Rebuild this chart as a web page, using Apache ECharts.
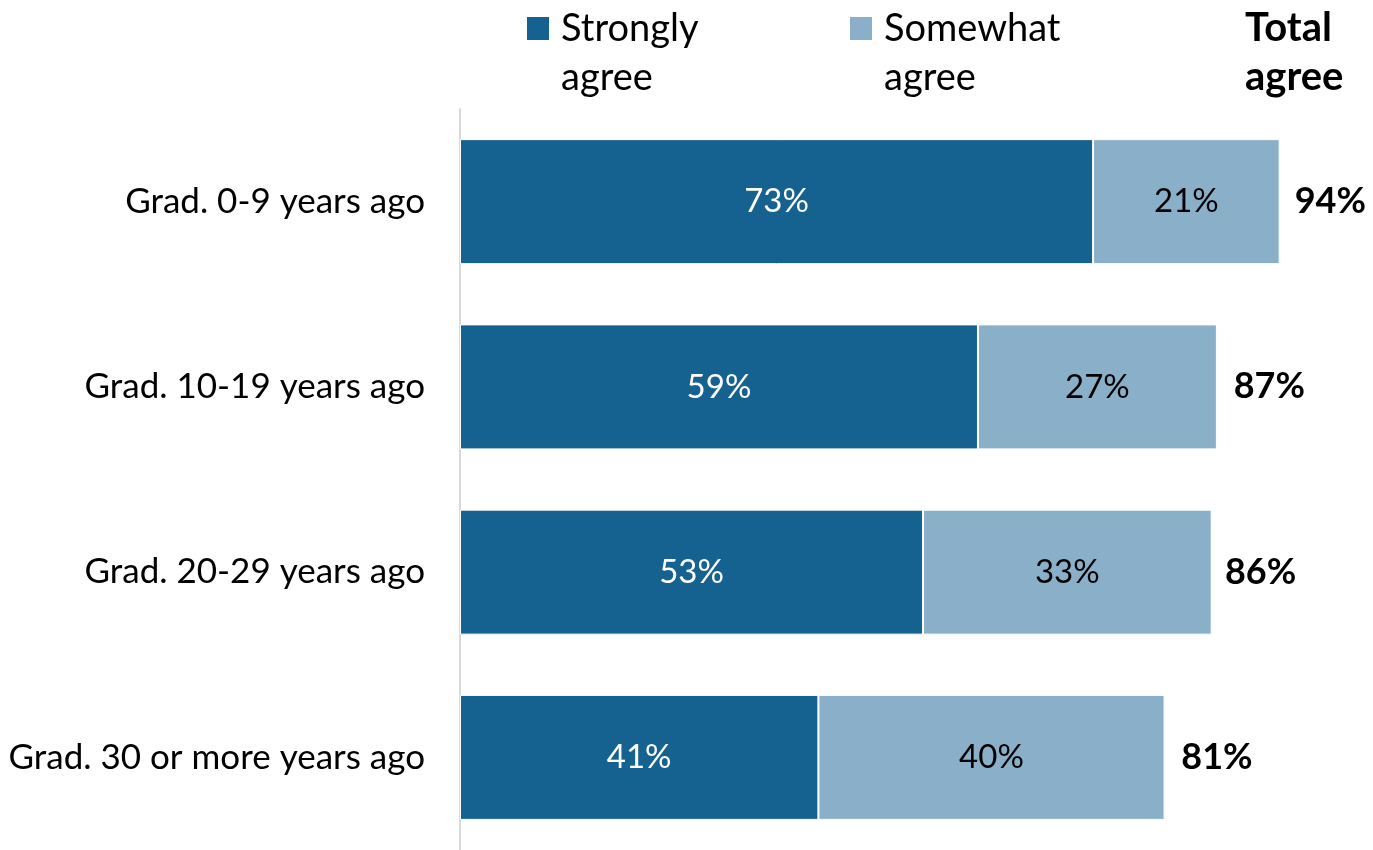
<!DOCTYPE html>
<html>
<head>
<meta charset="utf-8">
<script src="https://cdn.jsdelivr.net/npm/echarts@6/dist/echarts.min.js"></script>
<style>html,body{margin:0;padding:0;background:#fff}#c{width:1373px;height:850px}</style>
</head>
<body>
<div id="c"></div>
<script>
const categories = ['Grad. 0-9 years ago', 'Grad. 10-19 years ago', 'Grad. 20-29 years ago', 'Grad. 30 or more years ago'];
const stronglyAgree = [72.6, 59.4, 53.1, 41.1];
const somewhatAgree = [21.4, 27.4, 33.1, 39.7];
const totalAgree = [94, 87, 86, 81];
const seriesNames = ['Strongly agree', 'Somewhat agree'];
const headerText = 'Total\nagree';

const FONT = 'Lato';
const chart = echarts.init(document.getElementById('c'), null, {renderer: 'canvas'});
const legendCommon = {
  orient: 'horizontal', padding: 0, itemWidth: 24, itemHeight: 25, icon: 'rect',
  formatter: n => '\u00a0\n' + n.replace(' ', '\n'),
  textStyle: {fontFamily: FONT, fontSize: 38, lineHeight: 49, color: '#000', padding: [0, 0, 0, 6]},
  selectedMode: false
};
chart.setOption({
  animation: false,
  textStyle: {fontFamily: FONT},
  legend: [
    Object.assign({}, legendCommon, {data: [seriesNames[0]], left: 525, top: -45}),
    Object.assign({}, legendCommon, {data: [seriesNames[1]], left: 848, top: -45})
  ],
  graphic: [{
    type: 'text', left: 1245, top: 4,
    style: {text: headerText, fontFamily: FONT, fontSize: 40, fontWeight: 'bold', lineHeight: 49, fill: '#000', textAlign: 'left'}
  }],
  grid: {left: 460, right: 41, top: 109, bottom: -6, containLabel: false},
  xAxis: {type: 'value', min: 0, max: 100, show: false, splitLine: {show: false}},
  yAxis: {
    type: 'category', data: categories, inverse: true,
    axisLine: {show: true, lineStyle: {color: '#d9d9d9', width: 2}},
    axisTick: {show: false},
    axisLabel: {fontFamily: FONT, fontSize: 35, color: '#000', margin: 35}
  },
  series: [
    {
      name: seriesNames[0], type: 'bar', stack: 'agree', data: stronglyAgree, barWidth: 125,
      itemStyle: {color: '#156190', borderColor: '#fff', borderWidth: 1},
      label: {show: true, position: 'inside', color: '#fff', fontFamily: FONT, fontSize: 33,
        formatter: p => Math.round(p.value) + '%'}
    },
    {
      name: seriesNames[1], type: 'bar', stack: 'agree', data: somewhatAgree, barWidth: 125,
      itemStyle: {color: '#8AB0C9', borderColor: '#fff', borderWidth: 1},
      label: {show: true, position: 'inside', color: '#000', fontFamily: FONT, fontSize: 33,
        formatter: p => Math.round(p.value) + '%'}
    },
    {
      name: 'Total agree', type: 'bar', data: totalAgree, barWidth: 125, barGap: '-100%', z: 1, silent: true,
      itemStyle: {color: 'rgba(0,0,0,0)'},
      label: {show: true, position: 'right', distance: 15, color: '#000', fontFamily: FONT, fontSize: 36, fontWeight: 'bold',
        formatter: p => p.value + '%'}
    }
  ]
});
</script>
</body>
</html>
